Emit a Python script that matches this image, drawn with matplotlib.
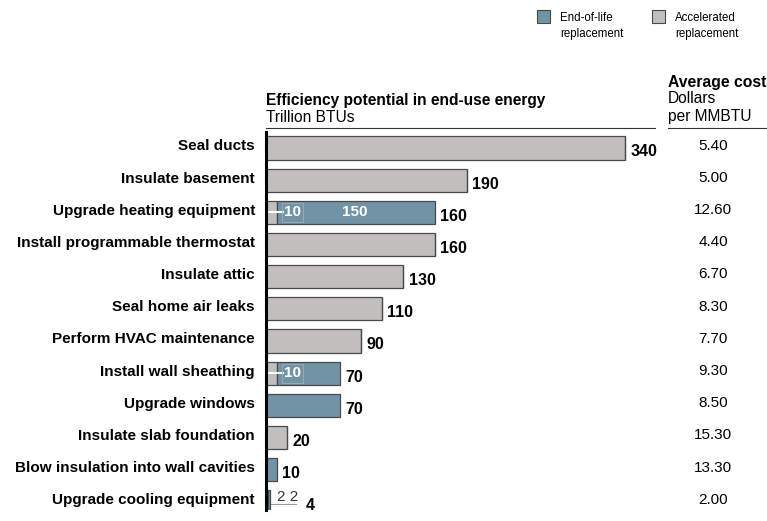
import matplotlib.pyplot as plt
import matplotlib.transforms as mtransforms
import numpy as np

plt.rcParams['font.family'] = ['Liberation Sans', 'DejaVu Sans']

categories = ["Seal ducts", "Insulate basement", "Upgrade heating equipment",
              "Install programmable thermostat", "Insulate attic", "Seal home air leaks",
              "Perform HVAC maintenance", "Install wall sheathing", "Upgrade windows",
              "Insulate slab foundation", "Blow insulation into wall cavities",
              "Upgrade cooling equipment"]
accelerated = [340, 190, 10, 160, 130, 110, 90, 10, 0, 20, 0, 2]
end_of_life = [0, 0, 150, 0, 0, 0, 0, 60, 70, 0, 10, 2]
totals = [340, 190, 160, 160, 130, 110, 90, 70, 70, 20, 10, 4]
avg_cost = ["5.40", "5.00", "12.60", "4.40", "6.70", "8.30", "7.70", "9.30", "8.50",
            "15.30", "13.30", "2.00"]

gray = "#c0bfbd"
blue = "#7293a6"
edge = "#4a4a4a"

W, H = 767, 521
fig = plt.figure(figsize=(W / 100, H / 100), dpi=100)
px = 1.056  # pixels per unit
ax = fig.add_axes([266 / W, 1 - 510 / H, (W - 266) / W, (510 - 131.9) / H])
ax.set_xlim(0, (W - 266) / px)
ax.set_ylim(11.25, -0.5)
ax.axis("off")
ax.plot([0, 0], [-0.5, 11.25], color="black", lw=2.2, clip_on=False, zorder=5)

y = np.arange(len(categories))
acc = np.array(accelerated)
eol = np.array(end_of_life)
ax.barh(y, acc, height=0.72, color=gray, edgecolor=edge, lw=0.9, zorder=2)
ax.barh(y, eol, left=acc, height=0.72, color=blue, edgecolor=edge, lw=0.9, zorder=2)

tr = mtransforms.blended_transform_factory(fig.transFigure, ax.transData)
for i, (name, tot) in enumerate(zip(categories, totals)):
    ax.text(-10.5, i - 0.05, name, ha="right", va="center", fontsize=11, fontweight="bold")
    off = 5 if i != 11 else 34
    ax.text(tot + off, i + 0.12, str(tot), ha="left", va="center", fontsize=11.5,
            fontweight="bold")
    ax.text(713 / W, i - 0.07, avg_cost[i], ha="center", va="center", fontsize=11,
            transform=tr)

# inner labels
for i in (2, 7):
    ax.plot([1.5, 16], [i, i], color="white", lw=1.5, zorder=4)
    ax.text(17, i, "10", ha="left", va="center", fontsize=11, fontweight="bold",
            color="white", zorder=4,
            bbox=dict(boxstyle="square,pad=0.15", fc="none", ec="#9ab0bd", lw=0.6))
ax.text(84, 2, "150", ha="center", va="center", fontsize=11, fontweight="bold",
        color="white", zorder=4)
ax.plot([2, 28], [11.05, 11.05], color="#999999", lw=0.7, zorder=1)
ax.text(10, 10.85, "2 2", ha="left", va="center", fontsize=11, color="#333333")

# headers
fig.text(266 / W, 1 - 101 / H, "Efficiency potential in end-use energy", fontsize=11.2,
         fontweight="bold", va="center")
fig.text(266 / W, 1 - 117 / H, "Trillion BTUs", fontsize=11.2, va="center")
fig.add_artist(plt.Line2D([266 / W, 655 / W], [1 - 128 / H, 1 - 128 / H], color="#333333", lw=0.8))
fig.text(668 / W, 1 - 82 / H, "Average cost", fontsize=11.3, fontweight="bold", va="center")
fig.text(668 / W, 1 - 99 / H, "Dollars", fontsize=11.2, va="center")
fig.text(668 / W, 1 - 116 / H, "per MMBTU", fontsize=11.2, va="center")
fig.add_artist(plt.Line2D([668 / W, 766 / W], [1 - 128 / H, 1 - 128 / H], color="#333333", lw=0.8))

# legend
for x0, col, lab in ((537, blue, "End-of-life\nreplacement"), (652, gray, "Accelerated\nreplacement")):
    fig.add_artist(plt.Rectangle((x0 / W, 1 - 23 / H), 13 / W, 13 / H, fc=col, ec=edge, lw=0.8))
    fig.text((x0 + 23) / W, 1 - 26 / H, lab, fontsize=8.3, va="center", linespacing=1.5)

fig.savefig("out.png", dpi=100)
